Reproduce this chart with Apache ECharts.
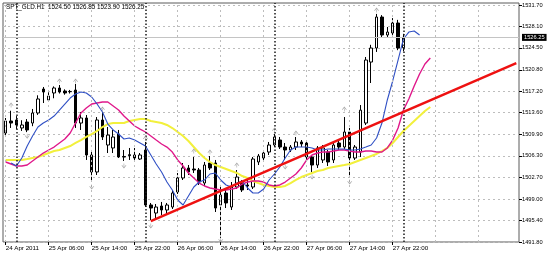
<!DOCTYPE html>
<html><head><meta charset="utf-8">
<script src="https://cdn.jsdelivr.net/npm/echarts@6/dist/echarts.min.js"></script>
<style>html,body{margin:0;padding:0;background:#fff}#c{width:550px;height:253px}</style>
</head><body><div id="c"></div><script>
const symbolName = 'SPT_GLD.H1';
const opens = [1510.15,1512.17,1512.34,1511.00,1512.00,1511.83,1513.52,1517.56,1515.71,1516.89,
1517.73,1517.22,1517.10,1517.39,1511.83,1512.68,1506.45,1503.59,1512.34,1508.13,
1507.63,1509.98,1506.20,1506.50,1506.45,1505.77,1507.29,1498.03,1496.68,1497.86,
1497.19,1497.69,1500.22,1502.58,1504.26,1504.09,1503.92,1501.73,1505.10,1505.10,
1498.03,1500.05,1497.69,1501.06,1501.73,1501.40,1501.06,1505.27,1505.94,1506.95,
1508.13,1508.97,1507.79,1507.29,1507.79,1508.64,1508.47,1506.11,1504.76,1505.61,
1506.95,1505.61,1508.47,1507.79,1510.32,1505.94,1506.95,1511.83,1522.10,1524.46,
1529.68,1526.65,1526.99,1528.67,1524.50];
const closes = [1512.17,1511.83,1511.50,1511.50,1510.66,1513.52,1515.88,1517.05,1516.38,1517.73,
1517.05,1516.89,1517.15,1511.83,1512.68,1506.45,1503.59,1512.34,1509.48,1509.81,
1509.48,1506.11,1506.10,1506.35,1505.94,1506.45,1498.03,1497.52,1497.69,1497.19,
1498.03,1500.05,1502.58,1504.26,1503.59,1503.92,1501.90,1504.76,1504.26,1497.52,
1499.71,1498.37,1501.06,1502.74,1500.56,1501.23,1505.77,1506.28,1506.78,1508.13,
1509.48,1507.79,1507.29,1507.79,1508.64,1508.30,1506.11,1504.76,1507.63,1507.63,
1505.27,1508.13,1507.79,1510.32,1505.94,1507.79,1514.00,1522.44,1524.46,1529.68,
1526.65,1527.15,1528.67,1524.46,1526.25];
const lows = [1509.65,1511.00,1510.80,1510.50,1510.30,1511.30,1513.20,1515.20,1515.40,1516.00,
1516.80,1516.60,1516.80,1511.00,1510.66,1505.61,1501.90,1503.08,1508.97,1506.78,
1506.78,1505.94,1505.44,1505.61,1505.61,1505.61,1497.69,1495.50,1495.84,1496.35,
1496.35,1497.36,1499.88,1502.24,1503.08,1503.42,1501.40,1501.23,1503.92,1496.85,
1492.47,1497.52,1497.19,1500.72,1500.22,1500.56,1500.72,1504.76,1505.27,1506.45,
1507.79,1507.46,1505.61,1506.95,1507.29,1507.79,1505.61,1503.59,1504.26,1505.10,
1504.60,1505.10,1507.29,1507.46,1502.74,1505.61,1506.11,1511.50,1518.57,1523.80,
1526.30,1526.30,1526.65,1524.10,1523.90];
const highs = [1512.68,1513.90,1513.00,1512.30,1512.50,1514.20,1516.50,1517.90,1517.00,1518.00,
1518.23,1517.50,1517.40,1518.40,1513.69,1513.18,1507.29,1512.84,1513.69,1511.16,
1510.66,1510.66,1507.29,1507.63,1507.63,1506.78,1508.64,1498.37,1498.20,1498.54,
1498.37,1500.56,1503.42,1505.10,1504.76,1506.11,1504.26,1505.27,1506.28,1505.61,
1501.40,1500.56,1501.90,1503.92,1502.24,1502.24,1506.11,1506.62,1507.29,1508.64,
1509.98,1509.48,1508.47,1508.13,1509.48,1508.97,1508.80,1506.45,1507.96,1508.13,
1507.29,1508.47,1508.97,1512.84,1511.00,1508.13,1514.86,1522.95,1525.00,1530.20,
1530.00,1528.00,1529.50,1529.20,1526.85];
const maBlue = [null,1505.10,1504.60,1505.94,1507.96,1509.65,1511.16,1511.83,1512.34,1513.01,
1514.02,1515.03,1516.04,1516.72,1517.05,1516.89,1516.21,1515.03,1513.69,1511.66,
1510.66,1509.98,1509.14,1509.31,1508.97,1508.47,1507.96,1506.45,1504.93,1503.59,
1501.90,1500.56,1498.87,1498.03,1499.55,1501.06,1501.90,1502.24,1503.25,1503.42,
1502.24,1501.40,1501.06,1501.73,1502.07,1500.89,1500.05,1500.05,1500.72,1502.24,
1503.25,1504.43,1505.94,1507.29,1507.79,1507.79,1507.79,1507.63,1507.29,1507.29,
1507.46,1507.46,1507.46,1507.46,1507.29,1507.29,1507.46,1507.79,1508.13,1509.31,
1511.83,1515.71,1518.91,1522.44,1525.98,1527.15,1527.32,1526.65];
const maMagenta = [1505.27,1504.93,1504.60,1504.60,1504.76,1505.44,1506.11,1506.78,1507.29,1507.79,
1508.47,1509.14,1510.15,1511.83,1513.52,1514.36,1515.03,1515.20,1515.37,1515.37,
1514.70,1514.02,1513.01,1512.17,1511.33,1510.82,1510.32,1509.65,1508.97,1508.30,
1507.79,1506.95,1505.61,1504.60,1503.42,1502.58,1501.73,1501.23,1500.89,1500.72,
1500.56,1500.56,1500.72,1500.89,1501.56,1501.90,1502.07,1502.07,1501.90,1501.40,
1501.23,1501.40,1501.90,1502.58,1503.25,1504.26,1505.61,1506.45,1506.78,1506.95,
1506.95,1507.12,1507.29,1507.29,1507.12,1506.95,1506.95,1507.12,1507.12,1506.95,
1506.95,1507.63,1508.97,1510.99,1514.02,1515.88,1518.06,1520.09,1521.77,1522.78];
const maYellow = [1505.61,1505.61,1505.61,1505.61,1505.77,1505.94,1506.11,1506.45,1506.78,1507.12,
1507.29,1507.63,1507.96,1508.47,1508.97,1509.48,1509.98,1510.49,1511.16,1511.66,
1511.83,1511.83,1511.83,1512.17,1512.34,1512.51,1512.51,1512.17,1512.00,1511.83,
1511.50,1510.99,1510.32,1509.65,1508.80,1507.79,1506.78,1505.94,1505.27,1504.76,
1504.43,1504.09,1503.75,1503.42,1502.91,1502.58,1502.07,1501.73,1501.40,1501.23,
1501.06,1501.06,1501.23,1501.73,1502.24,1502.74,1503.08,1503.42,1503.75,1503.92,
1504.26,1504.43,1504.60,1504.76,1504.93,1505.27,1505.61,1505.94,1506.28,1506.62,
1507.12,1507.63,1508.47,1509.48,1510.49,1511.33,1512.17,1513.01,1513.85,1514.53];
const fractalUpBars = [1,10,13,18,26,35,38,43,50,54,63,69];
const fractalUpValues = [1514.86,1518.91,1518.91,1514.20,1509.30,1507.12,1506.95,1504.76,1510.66,1510.15,1514.19,1530.86];
const fractalDownBars = [4,16,22,27,40,52,57,64];
const fractalDownValues = [1509.60,1501.06,1504.60,1494.50,1492.14,1504.43,1502.74,1501.90];
const trendBars = [27, 95];
const trendValues = [1495.32, 1521.93];
const yTickValues = [1491.80,1495.40,1499.00,1502.70,1506.30,1509.90,1513.60,1517.20,1520.80,1524.50,1528.10,1531.70];
const xTickLabels = ['24 Apr 2011','25 Apr 06:00','25 Apr 14:00','25 Apr 22:00','26 Apr 06:00','26 Apr 14:00','26 Apr 22:00','27 Apr 06:00','27 Apr 14:00','27 Apr 22:00'];
const daySeparatorBars = [2,26,50,74];
const bidPrice = 1526.25;
const SLOTS = 96;

const months = ['Jan','Feb','Mar','Apr','May','Jun','Jul','Aug','Sep','Oct','Nov','Dec'];
const categories = [];
const t0 = Date.UTC(2011,3,24,22);
for (let i = 0; i < SLOTS; i++) {
  const d = new Date(t0 + i*3600000);
  categories.push(d.getUTCDate()+' '+months[d.getUTCMonth()]+' '+String(d.getUTCHours()).padStart(2,'0')+':00');
}
const pad = a => categories.map((c,i)=> (i < a.length && a[i] != null) ? a[i] : null);
const candleData = opens.map((o,i)=>[o, closes[i], lows[i], highs[i]]);
const last = opens.length - 1;
const titleText = symbolName + '  ' + [opens[last], highs[last], lows[last], closes[last]].map(v=>v.toFixed(2)).join(' ');
const showTick = (idx) => idx % 8 === 0 && idx/8 < xTickLabels.length;
const gridLineBars = []; for (let i = 0; i < SLOTS; i += 8) gridLineBars.push(i);
const font = 'Liberation Sans';
const upSym = 'path://M5,0 L10,6 L8.4,6 L5,2.2 L1.6,6 L0,6 Z M4.4,3.5 L5.6,3.5 L5.6,9 L4.4,9 Z';
const dnSym = 'path://M5,9 L10,3 L8.4,3 L5,6.8 L1.6,3 L0,3 Z M4.4,5.5 L5.6,5.5 L5.6,0 L4.4,0 Z';

const chart = echarts.init(document.getElementById('c'), null, {renderer:'canvas'});
chart.setOption({
  animation: false,
  backgroundColor: '#ffffff',
  title: {text: titleText, left: 6, top: 4, padding: 0,
    textStyle: {fontSize: 6.3, fontWeight: 'normal', color: '#000', fontFamily: font}},
  grid: {left: 3, right: 31, top: 3, bottom: 11, show: true, borderColor: '#5a5a5a', borderWidth: 1, backgroundColor: 'transparent'},
  xAxis: {
    type: 'category', data: categories, boundaryGap: true,
    axisLine: {show: false},
    axisTick: {show: true, alignWithLabel: true, length: 3, interval: (i)=>showTick(i), lineStyle: {color: '#000'}},
    axisLabel: {interval: (i)=>showTick(i), align: 'left', margin: 3, fontSize: 6.2, color: '#000', fontFamily: font,
      formatter: (v, i) => showTick(i) ? xTickLabels[i/8] : ''},
    splitLine: {show: false}
  },
  yAxis: {
    type: 'value', position: 'right', min: 1491.80, max: 1532.04, scale: true,
    axisLine: {show: false},
    axisTick: {show: true, length: 3, customValues: yTickValues, lineStyle: {color: '#000'}},
    axisLabel: {customValues: yTickValues, margin: 3, fontSize: 5.7, color: '#000', fontFamily: font,
      formatter: v => Number(v).toFixed(2)},
    splitLine: {show: true, lineStyle: {color: '#bdbdbd', type: [2,3], width: 1}}
  },
  series: [
    {type: 'line', data: [], z: 1, silent: true,
      markLine: {symbol: ['none','none'], silent: true, animation: false,
        data: gridLineBars.map(i=>({xAxis: categories[i], lineStyle: {color: '#bdbdbd', type: [2,3], width: 1}, label: {show: false}}))
          .concat(daySeparatorBars.map(i=>({xAxis: categories[i], lineStyle: {color: '#1a1a1a', type: [1.5,2], width: 1.5}, label: {show: false}})))
          .concat([{yAxis: bidPrice, lineStyle: {color: '#c4c4c4', type: 'solid', width: 1},
            label: {show: true, position: 'end', distance: 3, formatter: bidPrice.toFixed(2), color: '#fff', backgroundColor: '#000',
              padding: [1,2,0,2], fontSize: 5.7, fontFamily: font}}])
      }},
    {type: 'candlestick', data: candleData, z: 3, barWidth: 3,
      itemStyle: {color: '#ffffff', color0: '#000000', borderColor: '#000000', borderColor0: '#000000', borderWidth: 1}},
    {type: 'line', data: pad(maYellow), z: 4, showSymbol: false, lineStyle: {color: '#f2f03c', width: 2}},
    {type: 'line', data: pad(maMagenta), z: 4, showSymbol: false, lineStyle: {color: '#e0188a', width: 1.4}},
    {type: 'line', data: pad(maBlue), z: 4, showSymbol: false, lineStyle: {color: '#2f4fc4', width: 1.1}},
    {type: 'line', data: trendBars.map((b,k)=>[categories[b], trendValues[k]]), z: 5, showSymbol: false,
      lineStyle: {color: '#ee1111', width: 2.5}},
    {type: 'scatter', data: fractalUpBars.map((b,k)=>[categories[b], fractalUpValues[k]]), z: 6,
      symbol: upSym, symbolSize: [5,5], itemStyle: {color: '#8c8c8c'}},
    {type: 'scatter', data: fractalDownBars.map((b,k)=>[categories[b], fractalDownValues[k]]), z: 6,
      symbol: dnSym, symbolSize: [5,5], itemStyle: {color: '#8c8c8c'}}
  ]
});
</script></body></html>
